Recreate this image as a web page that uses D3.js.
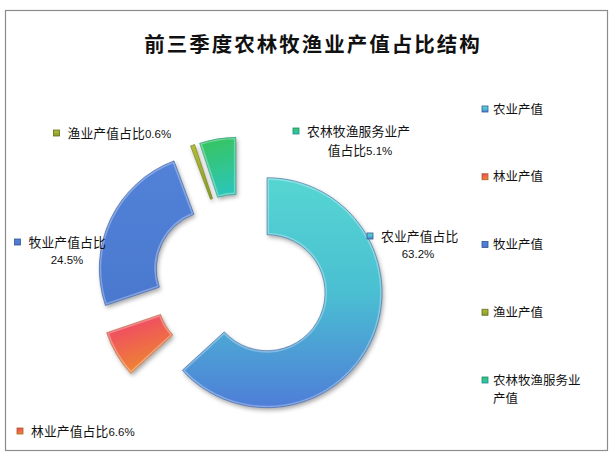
<!DOCTYPE html>
<html><head><meta charset="utf-8">
<script src="https://cdn.jsdelivr.net/npm/d3@7"></script>
<style>body{margin:0;background:#fff}svg{display:block}</style>
</head><body>
<svg id="c" width="615" height="457"></svg>
<script>
const title = "前三季度农林牧渔业产值占比结构";
const categories = ["农业产值","林业产值","牧业产值","渔业产值","农林牧渔服务业产值"];
const values = [63.2, 6.6, 24.5, 0.6, 5.1];
const labelNames = ["农业产值占比","林业产值占比","牧业产值占比","渔业产值占比","农林牧渔服务业产值占比"];
const legendLines = [["农业产值"],["林业产值"],["牧业产值"],["渔业产值"],["农林牧渔服务业","产值"]];

// styling / layout
const gradStops = [
  [["0","#55d6d2"],["0.5","#4bbfd2"],["1","#4f7dd8"]],
  [["0","#f0406e"],["1","#ee8a2c"]],
  [["0","#5282d8"],["1","#4a78cf"]],
  [["0","#b4bc38"],["1","#8a9c26"]],
  [["0","#38c458"],["1","#2cc6b4"]]
];
const gradDir = [[0,0,0,1],[0.2,0,0.6,1],[0,0,0,1],[0,0,0,1],[0,0,0.2,1]];
const highlight = [0.3,0.3,0.3,0,0.3];
// label layout
const labelLayout = [
  {mx:370, y:236, lines:[{t:"农业产值占比"}], num:{x:418,y:254}},
  {mx:20, y:431, lines:[{t:"林业产值占比"}], numInline:true},
  {mx:17.5, y:242, lines:[{t:"牧业产值占比"}], num:{x:67,y:260}},
  {mx:56.5, y:133, lines:[{t:"渔业产值占比"}], numInline:true},
  {mx:296, y:131, lines:[{t:"农林牧渔服务业产"}], num2:{x:360,y:150,t:"值占比"}}
];

const svg = d3.select("#c");
const defs = svg.append("defs");
const cx = 240.5, cy = 281, R = 115, r = 58, explode = 29;

const f = defs.append("filter").attr("id","sh").attr("x","-30%").attr("y","-30%").attr("width","160%").attr("height","160%");
f.append("feDropShadow").attr("dx",1.5).attr("dy",2.5).attr("stdDeviation",2.2).attr("flood-color","#000").attr("flood-opacity",0.35);

gradStops.forEach((stops,i)=>{
  const g = defs.append("linearGradient").attr("id","g"+i)
    .attr("x1",gradDir[i][0]).attr("y1",gradDir[i][1]).attr("x2",gradDir[i][2]).attr("y2",gradDir[i][3]);
  stops.forEach(s=>g.append("stop").attr("offset",s[0]).attr("stop-color",s[1]));
});

// frame
svg.append("rect").attr("x",5.5).attr("y",10.5).attr("width",602).attr("height",440)
  .attr("fill","#fff").attr("stroke","#8c8c8c").attr("stroke-width",1.2);

// title
svg.append("text").attr("x",313).attr("y",51.5).attr("text-anchor","middle")
  .attr("font-family","'Noto Sans CJK SC'").attr("font-weight","bold").attr("font-size",20.5)
  .attr("letter-spacing",2).attr("fill","#111").text(title);

const pie = d3.pie().sort(null).value(d=>d)(values);
const arc = d3.arc().innerRadius(r).outerRadius(R);

const gp = svg.append("g").attr("transform",`translate(${cx},${cy})`);
pie.forEach((d,i)=>{
  const mid = (d.startAngle+d.endAngle)/2;
  const dx = explode*Math.sin(mid), dy = -explode*Math.cos(mid);
  const g = gp.append("g").attr("transform",`translate(${dx},${dy})`);
  defs.append("clipPath").attr("id","cp"+i).append("path").attr("d",arc(d));
  const base = d3.color(gradStops[i][gradStops[i].length-1][1]).darker(0.9);
  g.append("path").attr("d",arc(d)).attr("fill",`url(#g${i})`).attr("filter","url(#sh)");
  if(highlight[i]>0) g.append("path").attr("d",arc(d)).attr("fill","none").attr("stroke","#fff")
    .attr("stroke-opacity",highlight[i]).attr("stroke-width",4).attr("clip-path",`url(#cp${i})`);
  g.append("path").attr("d",arc(d)).attr("fill","none").attr("stroke",base.formatHex())
    .attr("stroke-opacity",0.7).attr("stroke-width",0.8);
});

function marker(x,y,i){
  svg.append("rect").attr("x",x-3).attr("y",y-3).attr("width",6).attr("height",6)
    .attr("fill",`url(#g${i})`).attr("stroke",d3.color(gradStops[i][gradStops[i].length-1][1]).darker(1).formatHex()).attr("stroke-width",0.8);
}
const cjk = "'Noto Sans CJK SC'", num = "'Liberation Sans'";
const fmt = v => d3.format(".1f")(v)+"%";

labelLayout.forEach((L,i)=>{
  marker(L.mx,L.y,i);
  const t = svg.append("text").attr("x",L.mx+11).attr("y",L.y+4.5).attr("fill","#111");
  t.append("tspan").attr("font-family",cjk).attr("font-size",12.8).attr("letter-spacing",0.1).text(L.lines[0].t);
  if(L.numInline) t.append("tspan").attr("font-family",num).attr("font-size",11.5).text(fmt(values[i]));
  if(L.num) svg.append("text").attr("x",L.num.x).attr("y",L.num.y+4).attr("text-anchor","middle")
    .attr("font-family",num).attr("font-size",11.5).attr("fill","#111").text(fmt(values[i]));
  if(L.num2){
    const t2 = svg.append("text").attr("x",L.num2.x).attr("y",L.num2.y+4.5).attr("text-anchor","middle").attr("fill","#111");
    t2.append("tspan").attr("font-family",cjk).attr("font-size",12.8).text(L.num2.t);
    t2.append("tspan").attr("font-family",num).attr("font-size",11.5).text(fmt(values[i]));
  }
});

// legend
const ly = d3.scalePoint().domain(categories).range([109,380]);
categories.forEach((c,i)=>{
  const y = ly(c);
  marker(485,y,i);
  legendLines[i].forEach((s,k)=>{
    svg.append("text").attr("x",493).attr("y",y+4.5+k*18.5).attr("font-family",cjk)
      .attr("font-size",12.5).attr("fill","#111").text(s);
  });
});
</script>
</body></html>
